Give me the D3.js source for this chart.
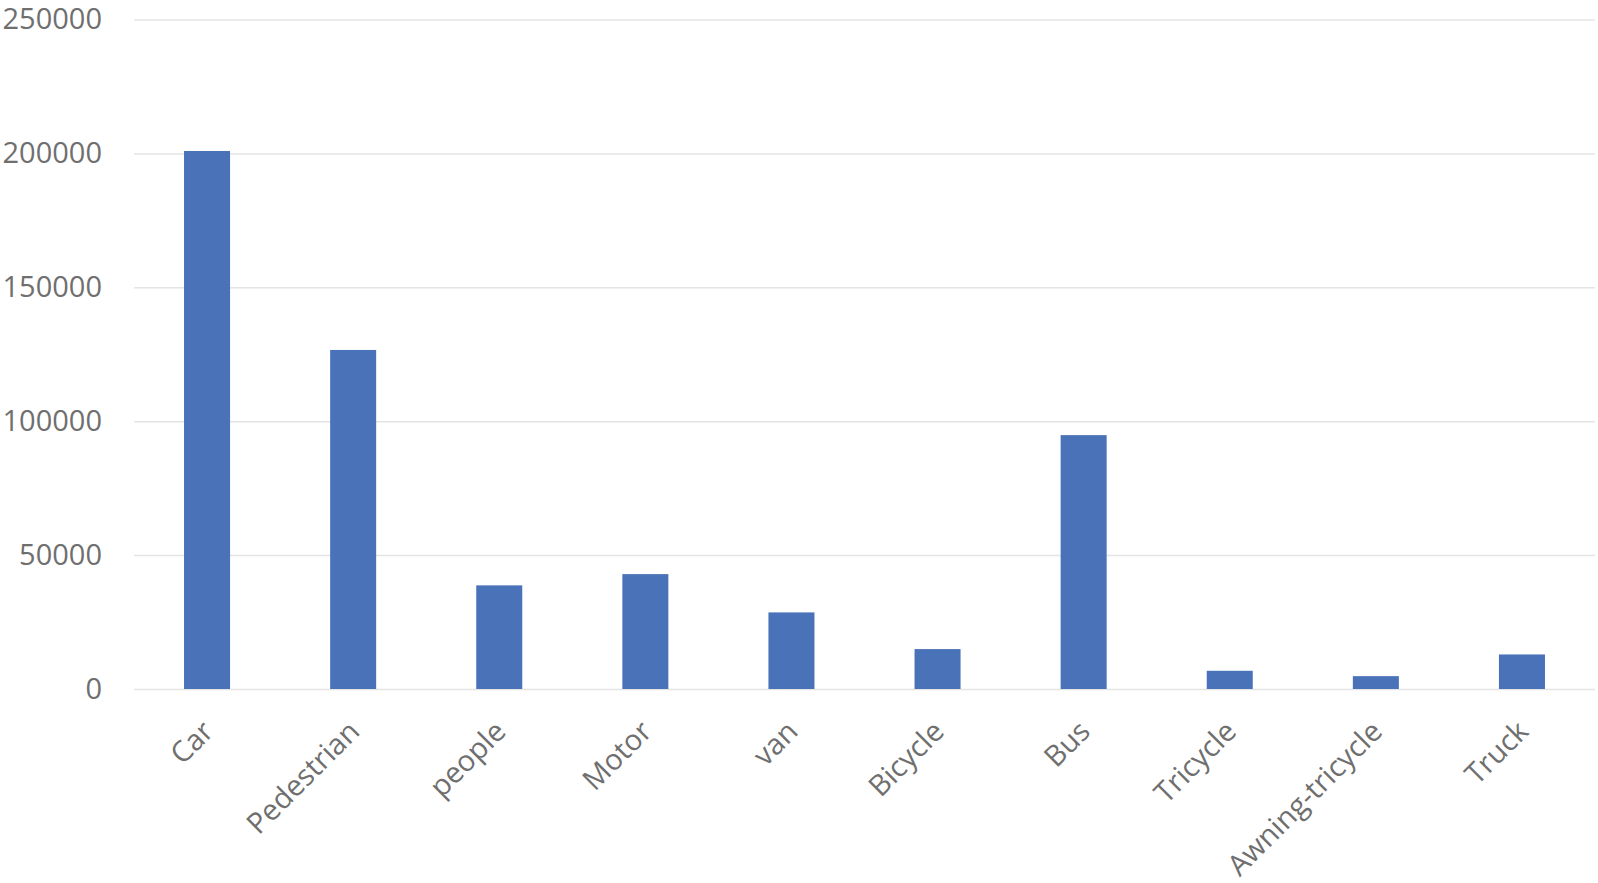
<!DOCTYPE html>
<html>
<head>
<meta charset="utf-8">
<script src="https://cdn.jsdelivr.net/npm/d3@7"></script>
<style>
  html, body { margin: 0; padding: 0; background: #fff; }
  svg { display: block; }
  text { font-family: "Open Sans", "Noto Sans", sans-serif; fill: #6f6f6f; }
</style>
</head>
<body>
<script>
const categories = ["Car", "Pedestrian", "people", "Motor", "van", "Bicycle", "Bus", "Tricycle", "Awning-tricycle", "Truck"];
const values = [200900, 126600, 38700, 42900, 28600, 14900, 94800, 6800, 4800, 12900];
const yTicks = [0, 50000, 100000, 150000, 200000, 250000];

const W = 1598, H = 883;
const margin = { left: 134, right: 3, top: 19.5, bottom: 194 };

const svg = d3.select("body").append("svg").attr("width", W).attr("height", H);

const x = d3.scaleBand()
  .domain(categories)
  .range([margin.left, W - margin.right])
  .paddingInner(0.685)
  .paddingOuter(0.3425);

const y = d3.scaleLinear()
  .domain([0, 250000])
  .range([H - margin.bottom, margin.top]);

// gridlines
const grid = svg.append("g")
  .attr("transform", `translate(${margin.left},0)`)
  .call(d3.axisLeft(y).tickValues(yTicks).tickSize(-(W - margin.right - margin.left)).tickFormat(""));
grid.select(".domain").remove();
grid.selectAll("line").attr("stroke", "#e4e4e4").attr("stroke-width", 1.5);

// y labels
const yAxis = svg.append("g")
  .attr("transform", `translate(${margin.left},0)`)
  .call(d3.axisLeft(y).tickValues(yTicks).tickSize(0).tickPadding(32).tickFormat(d3.format("d")));
yAxis.select(".domain").remove();
yAxis.selectAll("text").style("font-size", "29px").attr("fill", "#6f6f6f").style("font-family", "'Open Sans', sans-serif");

// bars
svg.append("g").selectAll("rect")
  .data(categories)
  .join("rect")
  .attr("x", d => x(d))
  .attr("width", x.bandwidth())
  .attr("y", (d, i) => y(values[i]))
  .attr("height", (d, i) => y(0) - y(values[i]))
  .attr("fill", "#4a72b8");

// x labels
const xAxis = svg.append("g")
  .attr("transform", `translate(0,${y(0)})`)
  .call(d3.axisBottom(x).tickSize(0).tickPadding(0));
xAxis.select(".domain").remove();
xAxis.selectAll("text")
  .style("font-size", "29px")
  .style("font-family", "'Open Sans', sans-serif")
  .attr("fill", "#6f6f6f")
  .attr("text-anchor", "end")
  .attr("dy", "0.35em")
  .attr("transform", "translate(1,37) rotate(-45)")
  .attr("x", 0).attr("y", 0);
</script>
</body>
</html>
